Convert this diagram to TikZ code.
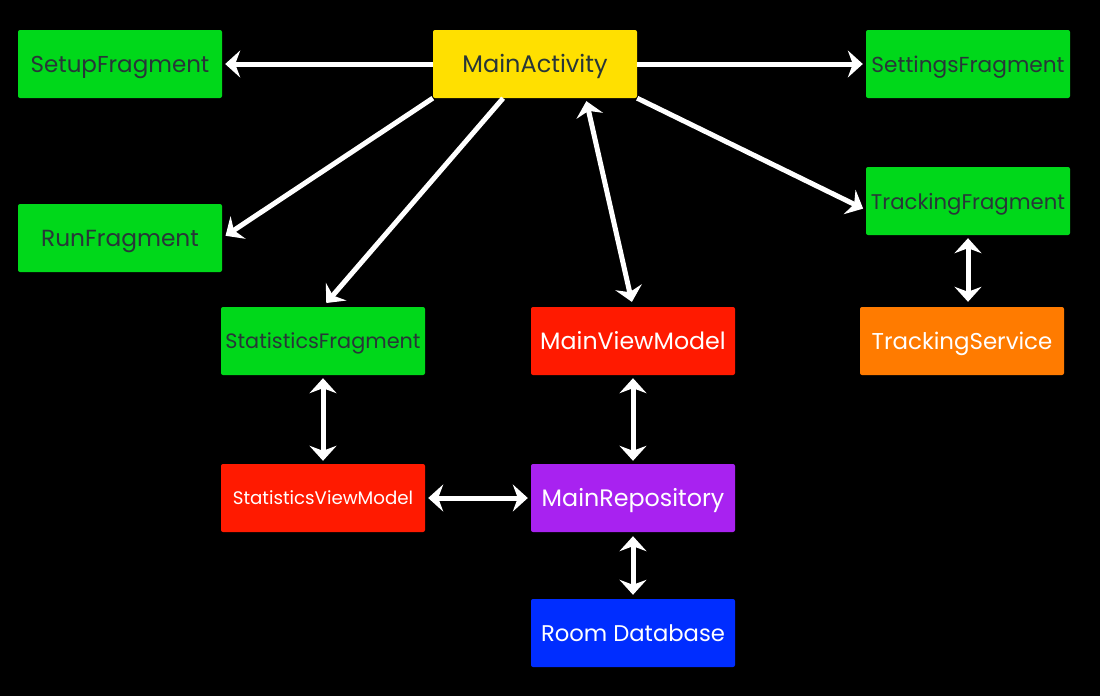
\documentclass[tikz,border=0pt]{standalone}
\usepackage{fontspec}
\setmainfont{Poppins}
\usetikzlibrary{arrows.meta}

\definecolor{fraggreen}{RGB}{0,216,26}
\definecolor{actyellow}{RGB}{255,224,0}
\definecolor{vmred}{RGB}{255,26,0}
\definecolor{repopurple}{RGB}{168,34,240}
\definecolor{dbblue}{RGB}{0,45,255}
\definecolor{svcorange}{RGB}{255,123,0}
\definecolor{darktext}{RGB}{40,54,56}

\newcommand{\fsz}[1]{\fontsize{#1}{#1}\selectfont}

\begin{document}
\begin{tikzpicture}[x=1pt, y=-1pt,
    box/.style={minimum width=204pt, minimum height=68pt, inner sep=0pt,
        rounded corners=2pt, text height=16pt, text depth=0pt},
    frag/.style={box, fill=fraggreen, text=darktext, font=\fsz{23}},
    dark/.style={box, text=white, font=\fsz{23.5}},
    link/.style={white, line width=5pt, -{Stealth[length=15pt, width=27pt, inset=5pt]}},
    both/.style={white, line width=5pt,
        {Stealth[length=15pt, width=27pt, inset=5pt]}-{Stealth[length=15pt, width=27pt, inset=5pt]}}]

    % background
    \fill[black] (0,0) rectangle (1100,696);

    % top row
    \node[frag] (setup) at (120,64) {SetupFragment};
    \node[box, fill=actyellow, text=darktext, font=\fsz{24}]
        (main) at (535,64) {MainActivity};
    \node[frag, font=\fsz{21.7}] (settings) at (968,64) {SettingsFragment};

    % fragments
    \node[frag, font=\fsz{23.3}] (run) at (120,238) {RunFragment};
    \node[frag, font=\fsz{21.2}] (tracking) at (968,201) {TrackingFragment};
    \node[frag, font=\fsz{20.8}, text height=14.5pt] (stats) at (323,341) {StatisticsFragment};

    % view models, service, data
    \node[dark, fill=vmred, font=\fsz{23.7}] (mainvm) at (633,341) {MainViewModel};
    \node[dark, fill=svcorange, font=\fsz{22.9}] (service) at (962,341) {TrackingService};
    \node[dark, fill=vmred, font=\fsz{18.2}, text height=13pt] (statsvm) at (323,498) {StatisticsViewModel};
    \node[dark, fill=repopurple, font=\fsz{23.8}] (repo) at (633,498) {MainRepository};
    \node[dark, fill=dbblue, font=\fsz{22.7}] (room) at (633,633) {Room Database};

    % arrows from MainActivity
    \draw[link, shorten >=3pt] (main.west) -- (setup.east);
    \draw[link, shorten >=3pt] (main.east) -- (settings.west);
    \draw[link, shorten >=4pt] (main.south west) -- (run.east);
    \draw[link, shorten >=5pt] (main.227) -- (stats.north);
    \draw[link, shorten >=3pt] (main.south east) -- (tracking.185);
    \draw[both, shorten <=3pt, shorten >=5pt] (main.-34) -- (mainvm.north);

    % vertical and horizontal links
    \draw[both, shorten <=3pt, shorten >=5pt] (tracking.south) -- (service.north -| tracking.south);
    \draw[both, shorten <=3pt, shorten >=3pt] (stats.south) -- (statsvm.north);
    \draw[both, shorten <=3pt, shorten >=3pt] (mainvm.south) -- (repo.north);
    \draw[both, shorten <=3pt, shorten >=3pt] (statsvm.east) -- (repo.west);
    \draw[both, shorten <=4pt, shorten >=4pt] (repo.south) -- (room.north);

\end{tikzpicture}
\end{document}
